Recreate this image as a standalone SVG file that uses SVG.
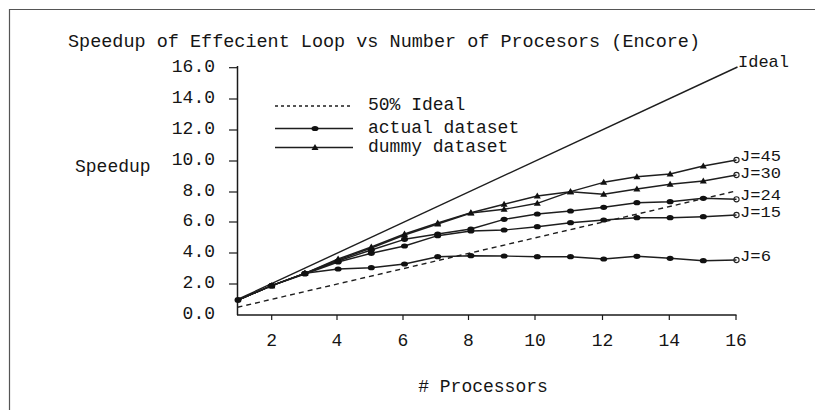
<svg xmlns="http://www.w3.org/2000/svg" width="815" height="410" viewBox="0 0 815 410">
<style>
text{font-family:"Liberation Mono","DejaVu Sans Mono",monospace;fill:#151515;font-size:18px}
.lbl{font-size:17px}
.jl{font-size:14px}
.frame{stroke:#555;stroke-width:1.2;fill:none}
.axis{stroke:#1a1a1a;stroke-width:1.5;fill:none}
.tick{stroke:#1a1a1a;stroke-width:1.2}
.ser{stroke:#1e1e1e;stroke-width:1.4;fill:none;stroke-linejoin:round}
.dash{stroke:#1e1e1e;stroke-width:1.4;fill:none;stroke-dasharray:5 4}
.dot{fill:#111}
.end{fill:none;stroke:#222;stroke-width:1.1}
</style>
<defs>
<marker id="c" viewBox="0 0 8 6" refX="4" refY="3" markerWidth="8" markerHeight="6" markerUnits="userSpaceOnUse"><ellipse cx="4" cy="3" rx="3.5" ry="2.6" fill="#111"/></marker>
<marker id="t" viewBox="0 0 8 7" refX="4" refY="4" markerWidth="8" markerHeight="7" markerUnits="userSpaceOnUse"><path d="M0.5,6.5 L4,0.5 L7.5,6.5 Z" fill="#111"/></marker>
</defs>
<path class="frame" d="M9.5,410 V9.5 H815"/>
<g id="title"><text x="68" y="47" textLength="632" lengthAdjust="spacingAndGlyphs">Speedup of Effecient Loop vs Number of Procesors (Encore)</text></g>
<g id="yaxis">
<line class="axis" x1="237.5" y1="66" x2="237.5" y2="315"/>
<g class="tick">
<line x1="229" y1="67.7" x2="237.5" y2="67.7"/><line x1="229" y1="99" x2="237.5" y2="99"/><line x1="229" y1="130" x2="237.5" y2="130"/><line x1="229" y1="161" x2="237.5" y2="161"/><line x1="229" y1="192" x2="237.5" y2="192"/><line x1="229" y1="222" x2="237.5" y2="222"/><line x1="229" y1="253" x2="237.5" y2="253"/><line x1="229" y1="284" x2="237.5" y2="284"/>
</g>
<g text-anchor="end">
<text x="215" y="72">16.0</text><text x="215" y="103">14.0</text><text x="215" y="134">12.0</text><text x="215" y="165">10.0</text><text x="215" y="196">8.0</text><text x="215" y="226">6.0</text><text x="215" y="257">4.0</text><text x="215" y="288">2.0</text><text x="215" y="319">0.0</text>
</g>
<text x="75" y="172">Speedup</text>
</g>
<g id="xaxis">
<line class="axis" x1="237" y1="315" x2="736.5" y2="315"/>
<g class="tick">
<line x1="271.7" y1="315" x2="271.7" y2="320"/><line x1="337" y1="315" x2="337" y2="320"/><line x1="403" y1="315" x2="403" y2="320"/><line x1="468.5" y1="315" x2="468.5" y2="320"/><line x1="535" y1="315" x2="535" y2="320"/><line x1="602.5" y1="315" x2="602.5" y2="320"/><line x1="669.3" y1="315" x2="669.3" y2="320"/><line x1="736" y1="315" x2="736" y2="320"/>
</g>
<g text-anchor="middle">
<text x="271.7" y="346">2</text><text x="337" y="346">4</text><text x="403" y="346">6</text><text x="468.5" y="346">8</text><text x="535" y="346">10</text><text x="602.5" y="346">12</text><text x="669.3" y="346">14</text><text x="736" y="346">16</text>
</g>
<text x="483" y="392" text-anchor="middle">#&#160;Processors</text>
</g>
<g id="legend">
<line class="dash" x1="275" y1="106" x2="353" y2="106" style="stroke-dasharray:3 3"/>
<text x="368" y="110">50% Ideal</text>
<line class="ser" x1="275" y1="128.5" x2="353" y2="128.5"/>
<ellipse class="dot" cx="315" cy="128.5" rx="3.5" ry="2.6"/>
<text x="368" y="133">actual dataset</text>
<line class="ser" x1="275" y1="147.5" x2="353" y2="147.5"/>
<path class="dot" d="M311.5,150 L315,144 L318.5,150 Z"/>
<text x="368" y="152">dummy dataset</text>
</g>
<g id="connectors">
<line id="ideal" class="ser" x1="237.5" y1="299.5" x2="737.5" y2="67"/>
<line id="half" class="dash" x1="237.5" y1="307.3" x2="736" y2="191"/>
<polyline id="j45" class="ser" marker-mid="url(#t)" points="238,300 271.7,285.7 304.9,273.3 338.1,259 371.3,247 404.5,234 437.7,223 470.9,212.7 504.1,204.3 537.3,196 570.5,191.7 603.7,182.3 636.9,176.7 670.1,174 703.3,166 736.5,160"/>
<polyline id="j30" class="ser" marker-mid="url(#t)" points="238,300 271.7,285.7 304.9,273.3 338.1,260 371.3,248 404.5,235 437.7,224 470.9,213 504.1,209.3 537.3,203.3 570.5,191.7 603.7,194.3 636.9,189 670.1,184.3 703.3,181 736.5,175"/>
<polyline id="j24" class="ser" marker-mid="url(#c)" points="238,300 271.7,285.7 304.9,273.3 338.1,261 371.3,250 404.5,239.3 437.7,234 470.9,229 504.1,219.3 537.3,214 570.5,211 603.7,207.3 636.9,202.7 670.1,201.7 703.3,198.3 736.5,199.3"/>
<polyline id="j15" class="ser" marker-mid="url(#c)" points="238,300 271.7,285.7 304.9,274 338.1,262 371.3,253.3 404.5,246 437.7,235.7 470.9,231 504.1,230 537.3,226.7 570.5,222.7 603.7,220 636.9,217.7 670.1,217.7 703.3,216.7 736.5,215"/>
<polyline id="j6" class="ser" marker-mid="url(#c)" points="238,300 271.7,285.7 304.9,273.3 338.1,269 371.3,267.7 404.5,264 437.7,256.7 470.9,255.7 504.1,256 537.3,256.7 570.5,256.7 603.7,259 636.9,256.3 670.1,258.3 703.3,260.7 736.5,260"/>
<ellipse class="dot" cx="238" cy="300" rx="3.5" ry="3"/>
<g class="end">
<circle cx="736.5" cy="160" r="2.6"/><circle cx="736.5" cy="175" r="2.6"/><circle cx="736.5" cy="199.3" r="2.6"/><circle cx="736.5" cy="215" r="2.6"/><circle cx="736.5" cy="260" r="2.6"/>
</g>
</g>
<g id="labels">
<text class="lbl" x="738" y="67">Ideal</text>
<text class="jl" x="740" y="161" textLength="41" lengthAdjust="spacingAndGlyphs">J=45</text>
<text class="jl" x="740" y="177.5" textLength="41" lengthAdjust="spacingAndGlyphs">J=30</text>
<text class="jl" x="740" y="199.5" textLength="41" lengthAdjust="spacingAndGlyphs">J=24</text>
<text class="jl" x="740" y="216.5" textLength="41" lengthAdjust="spacingAndGlyphs">J=15</text>
<text class="jl" x="740" y="261" textLength="31" lengthAdjust="spacingAndGlyphs">J=6</text>
</g>
</svg>
